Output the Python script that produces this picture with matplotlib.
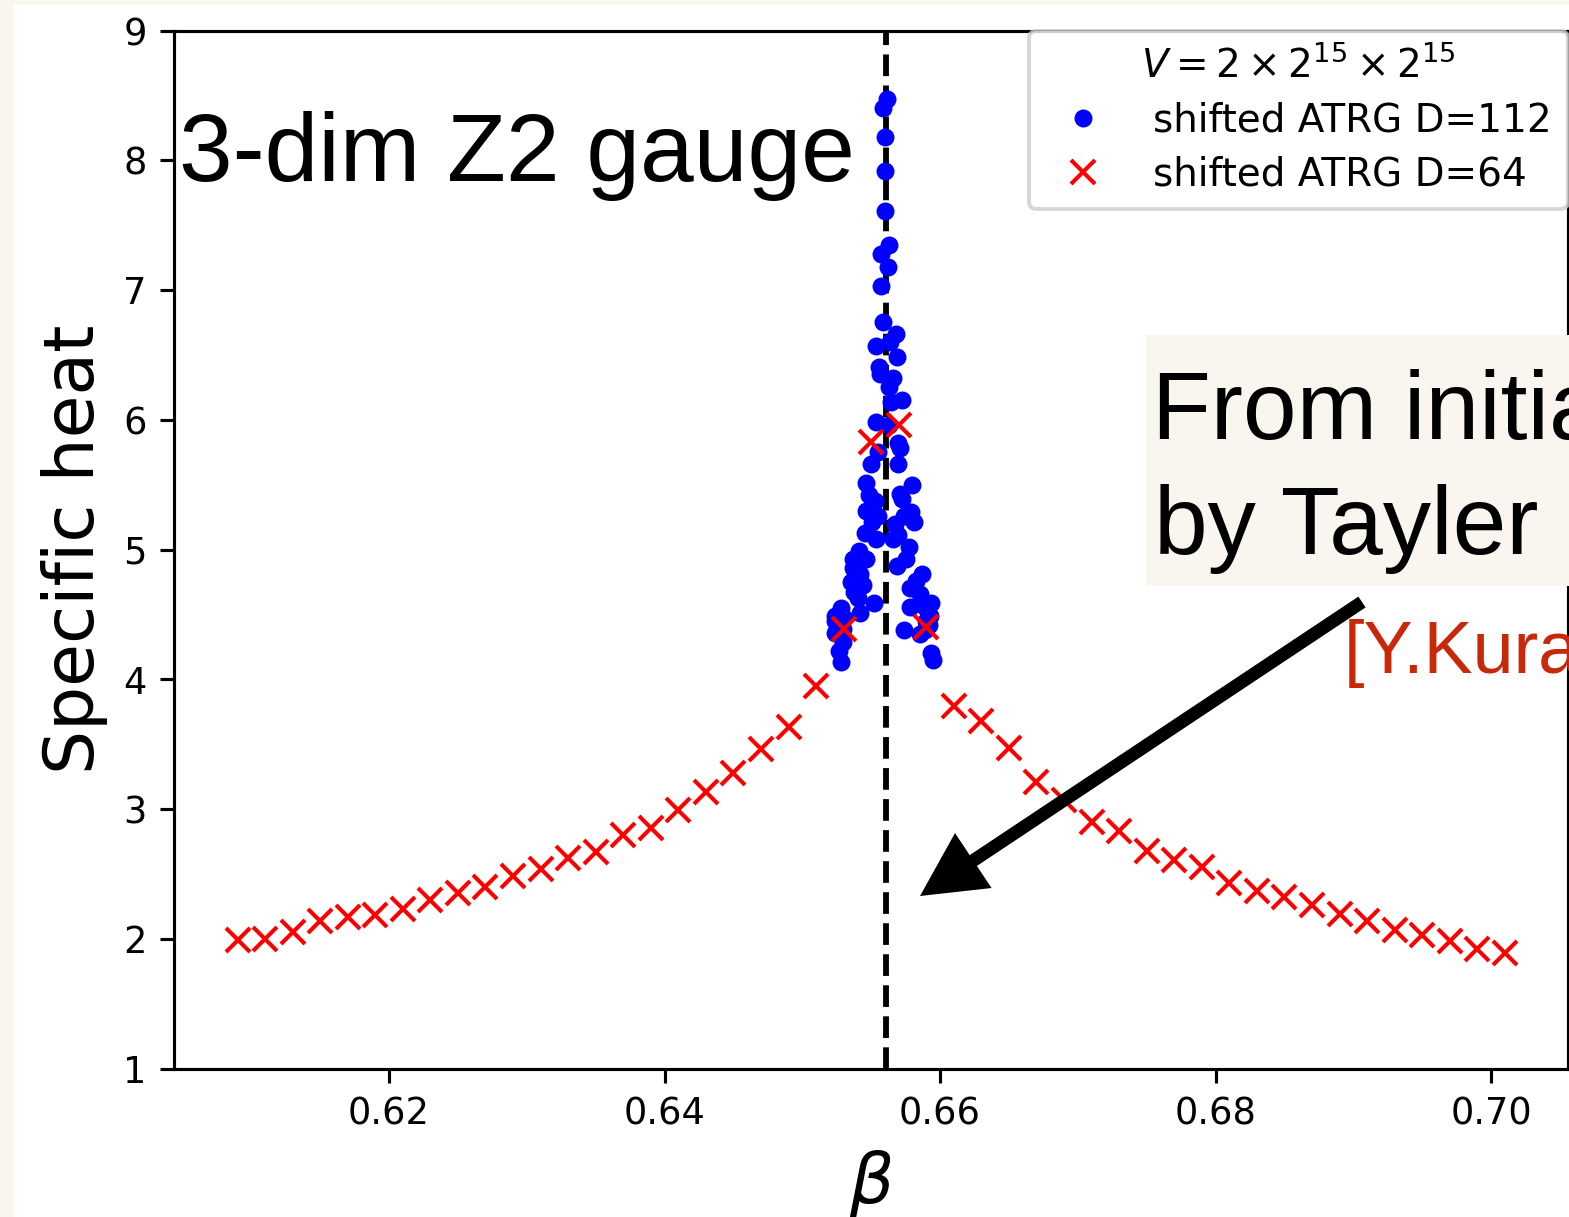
import matplotlib
matplotlib.use('Agg')
import matplotlib.pyplot as plt
from matplotlib.patches import Rectangle, FancyArrowPatch

# ---------------- data ----------------
beta_D64 = [0.609, 0.611, 0.613, 0.615, 0.617, 0.619, 0.621, 0.623, 0.625, 0.627,
            0.629, 0.631, 0.633, 0.635, 0.637, 0.639, 0.641, 0.643, 0.645, 0.647,
            0.649, 0.651, 0.653, 0.655, 0.657, 0.659, 0.661, 0.663, 0.665, 0.667,
            0.669, 0.671, 0.673, 0.675, 0.677, 0.679, 0.681, 0.683, 0.685, 0.687,
            0.689, 0.691, 0.693, 0.695, 0.697, 0.699, 0.701]
C_D64 = [1.99, 2.00, 2.05, 2.14, 2.17, 2.18, 2.23, 2.30, 2.35, 2.40,
         2.48, 2.54, 2.62, 2.67, 2.80, 2.85, 2.99, 3.13, 3.28, 3.46,
         3.63, 3.95, 4.39, 5.83, 5.96, 4.40, 3.79, 3.68, 3.47, 3.21,
         3.07, 2.90, 2.83, 2.68, 2.61, 2.55, 2.43, 2.37, 2.32, 2.26,
         2.19, 2.14, 2.07, 2.03, 1.98, 1.92, 1.89]

beta_D112 = [0.65615, 0.65586, 0.65604, 0.65597, 0.65604, 0.65628, 0.65573, 0.65621,
             0.65568, 0.65585, 0.65682, 0.65639, 0.65537, 0.65687, 0.65556, 0.65566,
             0.65657, 0.65633, 0.65726, 0.65646, 0.65537, 0.65633, 0.65694, 0.65711,
             0.65549, 0.65501, 0.65694,
             0.65464, 0.65795, 0.65483, 0.65711, 0.65525, 0.65726, 0.65464, 0.65549,
             0.65791, 0.65742, 0.65508, 0.65808, 0.65452, 0.65670, 0.65694, 0.65532,
             0.65657, 0.65773, 0.65411, 0.65464, 0.65367, 0.65754, 0.65687, 0.65367,
             0.65416, 0.65871, 0.65355, 0.65440, 0.65828, 0.65779, 0.65379, 0.65851,
             0.65403, 0.65517, 0.65936, 0.65779, 0.65888, 0.65283, 0.65416, 0.65234,
             0.65924, 0.65294, 0.65234, 0.65742, 0.65888, 0.65851, 0.65294, 0.65270,
             0.65936, 0.65948, 0.65283, 0.65240, 0.65260, 0.65300, 0.65920, 0.65900]
C_D112 = [8.47, 8.40, 8.18, 7.92, 7.61, 7.35, 7.28, 7.18,
          7.03, 6.75, 6.66, 6.60, 6.57, 6.48, 6.41, 6.35,
          6.32, 6.25, 6.15, 6.14, 5.98, 5.96, 5.82, 5.78,
          5.75, 5.66, 5.66,
          5.51, 5.50, 5.42, 5.43, 5.37, 5.39, 5.30, 5.26,
          5.29, 5.26, 5.21, 5.21, 5.13, 5.20, 5.11, 5.08,
          5.08, 5.02, 4.99, 4.93, 4.93, 4.93, 4.87, 4.86,
          4.81, 4.81, 4.75, 4.73, 4.76, 4.70, 4.67, 4.66,
          4.63, 4.59, 4.59, 4.56, 4.56, 4.55, 4.51, 4.49,
          4.49, 4.39, 4.36, 4.38, 4.38, 4.35, 4.29, 4.22,
          4.20, 4.15, 4.13, 4.45, 4.40, 4.47, 4.42, 4.45]

beta_c = 0.6561
x_ticks = [0.62, 0.64, 0.66, 0.68, 0.70]
y_ticks = [1, 2, 3, 4, 5, 6, 7, 8, 9]

label_D112 = 'shifted ATRG D=112'
label_D64 = 'shifted ATRG D=64'
legend_title = r'$V = 2 \times 2^{15} \times 2^{15}$'

# ---------------- figure ----------------
W, H = 1569, 1217
S = 2.81  # scale factor from original points
slide_bg = '#f9f5ef'

fig = plt.figure(figsize=(W / 100, H / 100), dpi=100, facecolor=slide_bg)
fig.add_artist(Rectangle((14 / W, 0), 1 - 14 / W, 1 - 5 / H, transform=fig.transFigure,
                         facecolor='white', edgecolor='none', zorder=-1))

ax = fig.add_axes([174 / W, 1 - 1068.5 / H, (1567.5 - 174) / W, (1068.5 - 30.5) / H])
ax.set_facecolor('white')

ax.axvline(beta_c, color='black', ls='--', lw=1.5 * S)
ax.plot(beta_D112, C_D112, 'o', ls='none', color='blue', ms=3.6 * S, mew=1 * S, label=label_D112)
ax.plot(beta_D64, C_D64, 'x', ls='none', color='red', ms=6 * S, mew=1.05 * S, label=label_D64)

ax.set_xlim(0.60439, 0.70555)
ax.set_ylim(1, 9)
ax.set_xticks(x_ticks)
ax.set_yticks(y_ticks)
ax.tick_params(length=3.5 * S, width=0.8 * S, pad=3.5 * S, labelsize=26.5)
for sp in ax.spines.values():
    sp.set_linewidth(0.8 * S)

ax.set_xlabel(r'$\beta$', fontsize=50, labelpad=4 * S)
ax.set_ylabel('Specific heat', fontsize=50, labelpad=4 * S)

leg = ax.legend(title=legend_title, loc='upper right', bbox_to_anchor=(1, 1),
                borderaxespad=0, fontsize=28.0, title_fontsize=28.0, labelspacing=0.42)
leg.get_frame().set_linewidth(1.0 * S)

# ---------------- slide overlays ----------------
fig.text(179 / W, 1 - 181 / H, '3-dim Z2 gauge', fontsize=69.5, family='Liberation Sans',
         va='baseline', ha='left', zorder=6)

fig.add_artist(Rectangle((1146 / W, 1 - 586 / H), (W - 1146) / W, (586 - 335) / H,
                         transform=fig.transFigure, facecolor=slide_bg, edgecolor='none', zorder=5))
fig.text(1152 / W, 1 - 439 / H, 'From initia', fontsize=69.5, family='Liberation Sans',
         va='baseline', ha='left', zorder=6)
fig.text(1154 / W, 1 - 554 / H, 'by Tayler', fontsize=69.5, family='Liberation Sans',
         va='baseline', ha='left', zorder=6)
fig.text(1344 / W, 1 - 673 / H, '[Y.Kura', fontsize=53, family='Liberation Sans',
         color='#c8280a', va='baseline', ha='left', zorder=6)

px = 72 / 100  # pixels -> points
arrow = FancyArrowPatch(posA=(1362 / W, 1 - 602 / H), posB=(920 / W, 1 - 896 / H),
                        transform=fig.transFigure,
                        arrowstyle='simple,head_length=%.2f,head_width=%.2f,tail_width=%.2f'
                        % (64 * px, 66 * px, 13 * px),
                        mutation_scale=1, shrinkA=0, shrinkB=0,
                        color='black', lw=0, zorder=7)
fig.add_artist(arrow)

fig.savefig('out.png', dpi=100, facecolor=fig.get_facecolor())
